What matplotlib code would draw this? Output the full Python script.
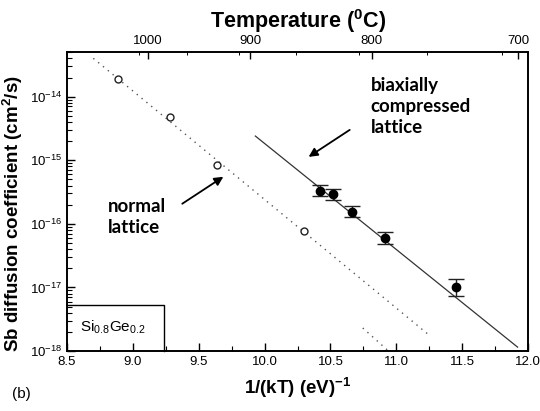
import numpy as np
import matplotlib
matplotlib.use("Agg")
import matplotlib.pyplot as plt
from matplotlib.ticker import LogLocator, MultipleLocator, NullFormatter, FixedLocator

plt.rcParams['font.family'] = ['Liberation Sans', 'DejaVu Sans']
plt.rcParams['mathtext.fontset'] = 'custom'
plt.rcParams['mathtext.rm'] = 'Liberation Sans'
plt.rcParams['mathtext.bf'] = 'Liberation Sans:bold'

# normal lattice (open circles)
normal_x = [8.89, 9.28, 9.64, 10.30]
normal_d = [1.9e-14, 4.7e-15, 8.5e-16, 7.8e-17]

# biaxially compressed lattice (filled circles, error in decades)
strained_x = [10.42, 10.52, 10.66, 10.91, 11.45]
strained_d = [3.3e-16, 2.9e-16, 1.56e-16, 5.9e-17, 1.0e-17]
strained_err_dex = [0.087, 0.085, 0.085, 0.095, 0.13]

# fit lines (end points)
normal_fit_x = [8.70, 11.26]
normal_fit_d = [4.0e-14, 1.7e-18]
extra_fit_x = [10.745, 10.94]
extra_fit_d = [2.3e-18, 1.0e-18]
strained_fit_x = [9.93, 11.92]
strained_fit_d = [2.4e-15, 1.15e-18]

temp_major = [1000, 900, 800, 700]
k_B = 8.617e-5


def inv_kT(t_c):
    return 1.0 / (k_B * (np.asarray(t_c, dtype=float) + 273.15))


fig = plt.figure(figsize=(5.4, 4.11), dpi=100)
ax = fig.add_axes([0.124, 0.146, 0.854, 0.727])

ax.plot(normal_fit_x, normal_fit_d, color='#555555', lw=1.0, linestyle=(0, (1, 3.5)))
ax.plot(extra_fit_x, extra_fit_d, color='#555555', lw=1.0, linestyle=(0, (1, 3.5)))
ax.plot(strained_fit_x, strained_fit_d, color='#333333', lw=0.9)

ax.plot(normal_x, normal_d, 'o', ms=5, mfc='white', mec='#222222', mew=1.0)

d = np.array(strained_d)
e = np.array(strained_err_dex)
yerr = [d - d / 10 ** e, d * 10 ** e - d]
ax.errorbar(strained_x, strained_d, yerr=yerr, fmt='o', ms=6, color='black',
            ecolor='#222222', elinewidth=1.0, capsize=6, capthick=1.0)

ax.set_yscale('log')
ax.set_xlim(8.5, 12.0)
ax.set_ylim(1e-18, 5e-14)

ax.xaxis.set_major_locator(MultipleLocator(0.5))
ax.xaxis.set_minor_locator(MultipleLocator(0.25))
ax.xaxis.set_major_formatter(plt.FuncFormatter(lambda v, p: f'{v:.1f}'))
ax.yaxis.set_major_locator(LogLocator(base=10, numticks=10))
ax.yaxis.set_minor_locator(LogLocator(base=10, subs=np.arange(2, 10), numticks=10))
ax.yaxis.set_minor_formatter(NullFormatter())

ax.tick_params(which='both', direction='in', top=False, right=False, labelsize=9.5)
ax.tick_params(which='major', length=6, width=1.0)
ax.tick_params(which='minor', length=3.5, width=0.8)
for s in ax.spines.values():
    s.set_linewidth(1.2)

ax.set_xlabel('1/(kT) (eV)$^{\\mathbf{-1}}$', fontsize=13.5, fontweight='bold', labelpad=5)
ax.set_ylabel('Sb diffusion coefficient (cm$^{\\mathbf{2}}$/s)', fontsize=13.5,
              fontweight='bold')
ax.yaxis.set_label_coords(-0.09, 0.46)

# top temperature axis
top = ax.twiny()
top.set_xlim(ax.get_xlim())
top.xaxis.set_major_locator(FixedLocator(inv_kT(temp_major)))
top.set_xticklabels([str(t) for t in temp_major])
top.xaxis.set_minor_locator(FixedLocator(inv_kT(np.arange(710, 1030, 50))))
top.tick_params(which='both', direction='in', labelsize=9.5)
top.tick_params(which='major', length=5, width=1.0)
top.tick_params(which='minor', length=2.5, width=0.7)
top.set_xlabel('Temperature ($^{\\mathbf{0}}$C)', fontsize=15.5, fontweight='bold', labelpad=5)
for s in top.spines.values():
    s.set_linewidth(1.2)

# Si0.8Ge0.2 box
box_x = [8.5, 9.24, 9.24]
box_y = [5.3e-18, 5.3e-18, 1e-18]
ax.plot(box_x, box_y, color='black', lw=1.0, clip_on=False)
ax.text(8.6, 2.4e-18, 'Si$_{0.8}$Ge$_{0.2}$', fontsize=11, va='center', ha='left')

# annotations
ann_font = dict(family=['Lato', 'DejaVu Sans'], fontweight='bold', fontsize=13.5)
ax.text(8.81, 1.29e-16, 'normal\nlattice', ha='left', va='center', linespacing=1.3, **ann_font)
ax.annotate('', xy=(9.687, 5.5e-16), xytext=(9.375, 2.07e-16),
            arrowprops=dict(arrowstyle='-|>', color='black', lw=1.3,
                            mutation_scale=13, shrinkA=0, shrinkB=0))
ax.text(10.806, 7.0e-15, 'biaxially\ncompressed\nlattice', ha='left', va='center',
        linespacing=1.3, **ann_font)
ax.annotate('', xy=(10.334, 1.13e-15), xytext=(10.646, 3.0e-15),
            arrowprops=dict(arrowstyle='-|>', color='black', lw=1.3,
                            mutation_scale=13, shrinkA=0, shrinkB=0))

fig.text(0.022, 0.032, '(b)', fontsize=11)

fig.savefig('out.png', dpi=100)
